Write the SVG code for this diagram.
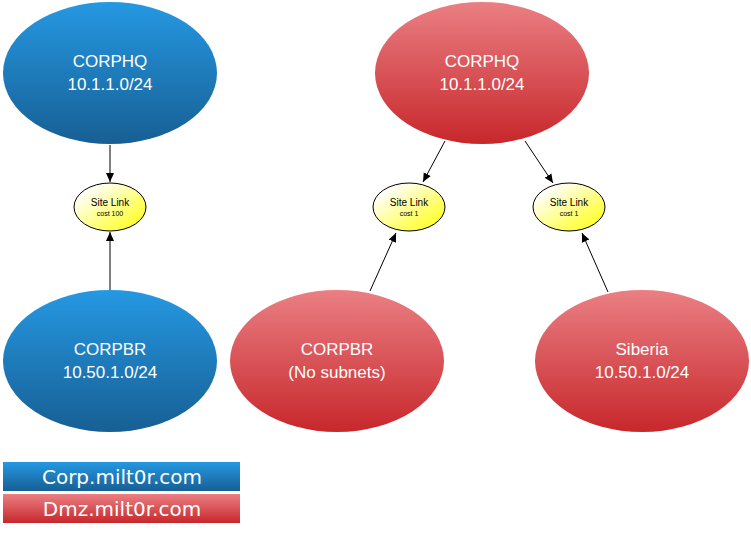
<svg xmlns="http://www.w3.org/2000/svg" width="751" height="534" viewBox="0 0 751 534">
<defs>
<linearGradient id="gb" x1="0" y1="0" x2="0" y2="1"><stop offset="0" stop-color="#2598e2"/><stop offset="1" stop-color="#175f94"/></linearGradient>
<linearGradient id="gr" x1="0" y1="0" x2="0" y2="1"><stop offset="0" stop-color="#ea7f83"/><stop offset="1" stop-color="#c7272b"/></linearGradient>
<linearGradient id="gy" x1="0" y1="0" x2="1" y2="1"><stop offset="0.15" stop-color="#ffffff"/><stop offset="0.85" stop-color="#ffff30"/></linearGradient>
<marker id="ah" markerWidth="10" markerHeight="10" refX="9" refY="5" orient="auto" markerUnits="userSpaceOnUse"><path d="M0,1 L9,5 L0,9 Z" fill="#000"/></marker>
<style>
.nt{font-family:"Liberation Sans",Arial,sans-serif;font-size:17px;fill:#fff;text-anchor:middle}
.lt{font-family:"Liberation Sans",Arial,sans-serif;font-size:10px;fill:#000;text-anchor:middle}
.ct{font-family:"Liberation Sans",Arial,sans-serif;font-size:7px;fill:#000;text-anchor:middle}
.lg{font-family:"DejaVu Sans",Verdana,sans-serif;font-size:20px;fill:#fff;text-anchor:middle}
.link{fill:url(#gy);stroke:#000;stroke-width:1}
.con{stroke:#000;stroke-width:1;fill:none;marker-end:url(#ah)}
</style>
</defs>
<rect width="751" height="534" fill="#fff"/>
<g id="corp-hq">
<ellipse cx="110" cy="73" rx="107" ry="71" fill="url(#gb)"/>
<text class="nt" x="110" y="67">CORPHQ</text>
<text class="nt" x="110" y="90">10.1.1.0/24</text>
</g>
<g id="corp-br">
<ellipse cx="110" cy="361" rx="107" ry="71" fill="url(#gb)"/>
<text class="nt" x="110" y="355">CORPBR</text>
<text class="nt" x="110" y="378">10.50.1.0/24</text>
</g>
<g id="dmz-hq">
<ellipse cx="482" cy="73" rx="107" ry="71" fill="url(#gr)"/>
<text class="nt" x="482" y="67">CORPHQ</text>
<text class="nt" x="482" y="90">10.1.1.0/24</text>
</g>
<g id="dmz-br">
<ellipse cx="337" cy="361" rx="107" ry="71" fill="url(#gr)"/>
<text class="nt" x="337" y="355">CORPBR</text>
<text class="nt" x="337" y="378">(No subnets)</text>
</g>
<g id="dmz-siberia">
<ellipse cx="642" cy="361" rx="107" ry="71" fill="url(#gr)"/>
<text class="nt" x="642" y="355">Siberia</text>
<text class="nt" x="642" y="378">10.50.1.0/24</text>
</g>
<g id="link-corp">
<ellipse class="link" cx="110" cy="207" rx="36" ry="24"/>
<text class="lt" x="110" y="206">Site Link</text>
<text class="ct" x="110" y="216">cost 100</text>
</g>
<g id="link-dmz-br">
<ellipse class="link" cx="409" cy="207" rx="36" ry="24"/>
<text class="lt" x="409" y="206">Site Link</text>
<text class="ct" x="409" y="216">cost 1</text>
</g>
<g id="link-dmz-siberia">
<ellipse class="link" cx="569" cy="207" rx="36" ry="24"/>
<text class="lt" x="569" y="206">Site Link</text>
<text class="ct" x="569" y="216">cost 1</text>
</g>
<g id="connectors">
<line class="con" x1="110" y1="145" x2="110" y2="182"/>
<line class="con" x1="110" y1="290" x2="110" y2="232"/>
<line class="con" x1="445" y1="141" x2="423" y2="182"/>
<line class="con" x1="525" y1="141" x2="553" y2="183"/>
<line class="con" x1="370" y1="291" x2="396" y2="233"/>
<line class="con" x1="608" y1="292" x2="582" y2="233"/>
</g>
<g id="legend-corp">
<rect x="3" y="462" width="237" height="29" fill="url(#gb)"/>
<text class="lg" x="122" y="484">Corp.milt0r.com</text>
</g>
<g id="legend-dmz">
<rect x="3" y="494" width="237" height="29" fill="url(#gr)"/>
<text class="lg" x="122" y="516">Dmz.milt0r.com</text>
</g>
</svg>
